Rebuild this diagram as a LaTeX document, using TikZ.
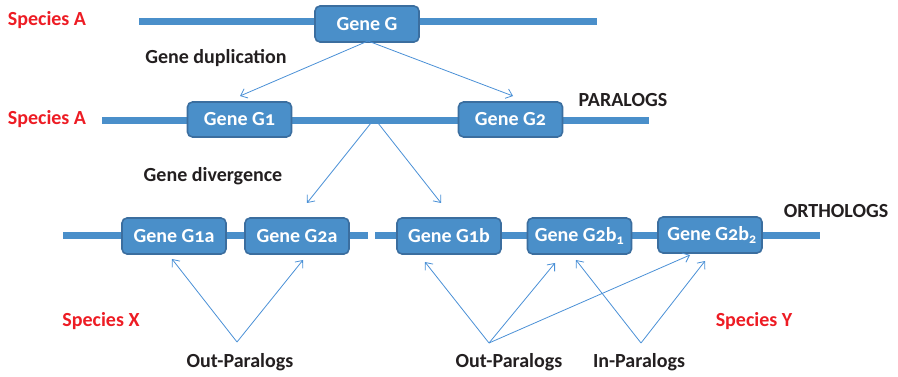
\documentclass[tikz,border=0pt]{standalone}
\usepackage{fontspec}
\setmainfont{Carlito}[Numbers=OldStyle]
\usetikzlibrary{arrows.meta}
\definecolor{genefill}{HTML}{4A8FC9}
\definecolor{genedraw}{HTML}{3B6E9F}
\definecolor{barblue}{HTML}{4A8FCA}
\definecolor{arrowblue}{HTML}{4A90D6}
\definecolor{specred}{HTML}{ED1C24}
\definecolor{labelblack}{HTML}{231F20}
\newcommand{\sub}[1]{\textsubscript{#1}}
\tikzset{
  gene/.style={draw=genedraw, line width=1.6pt, fill=genefill, rounded corners=5pt,
    minimum width=104pt, minimum height=36pt, inner sep=0pt, text=white,
    font=\fontsize{20}{24}\selectfont\bfseries},
  bar/.style={draw=barblue, line width=7pt},
  species/.style={text=specred, font=\fontsize{20}{24}\selectfont\bfseries},
  label/.style={text=labelblack, font=\fontsize{20}{24}\selectfont\bfseries},
  link/.style={draw=arrowblue, line width=0.8pt, -{Straight Barb[length=6pt,width=10pt]}}
}
\begin{document}
\begin{tikzpicture}[x=1pt, y=-1pt]
      \useasboundingbox (0,0) rectangle (898,377);
      % backbones
      \coordinate (a1) at (139,22);
      \coordinate (a2) at (597,22);
      \coordinate (b1) at (102,121);
      \coordinate (b2) at (649,121);
      \coordinate (x1) at (63,236);
      \coordinate (x2) at (368,236);
      \coordinate (y1) at (375,236);
      \coordinate (y2) at (820,236);
      \draw[bar] (a1) -- (a2);
      \draw[bar] (b1) -- (b2);
      \draw[bar] (x1) -- (x2);
      \draw[bar] (y1) -- (y2);
      % genes
      \draw
        (367,24) node[gene] (G){Gene G}
        (239.5,119.5) node[gene, minimum height=35pt] (G1){Gene G1}
        (510.5,119.5) node[gene, minimum height=35pt] (G2){Gene G2}
        (174,236) node[gene] (G1a){Gene G1a}
        (297,236) node[gene] (G2a){Gene G2a}
        (449,236) node[gene] (G1b){Gene G1b}
        (579.5,236) node[gene] (G2b1){Gene G2b\sub{1}}
        (710,235) node[gene] (G2b2){\hspace{4pt}Gene G2b\sub{2}};
      % labels
      \draw
        (47,20) node[species] (spA1){Species A}
        (47,119) node[species] (spA2){Species A}
        (101,321) node[species] (spX){Species X}
        (754,321) node[species] (spY){Species Y}
        (216,58) node[label] (dup){Gene duplication}
        (623,100) node[label] (par){PARALOGS}
        (213,176) node[label] (div){Gene divergence}
        (836,211) node[label] (ort){ORTHOLOGS}
        (240,362) node[label] (outX){Out-Paralogs}
        (509,362) node[label] (outY){Out-Paralogs}
        (639,362) node[label] (inY){In-Paralogs};
      % arrow ends
      \coordinate (d0) at (368,41);
      \coordinate (d1) at (240,96);
      \coordinate (d2) at (513,96);
      \coordinate (v1) at (371,123);
      \coordinate (v2) at (378,123);
      \coordinate (t1) at (307,203);
      \coordinate (t2) at (441,203);
      \coordinate (ox) at (237,342);
      \coordinate (oy) at (489,343);
      \coordinate (iy) at (641,343);
      \coordinate (h1a) at (172,259);
      \coordinate (h2a) at (303,260);
      \coordinate (h1b) at (425,262);
      \coordinate (h2b1) at (555,263);
      \coordinate (h2b2) at (690,255);
      \coordinate (i2b1) at (576,260);
      \coordinate (i2b2) at (705,261);
      \begin{scope}[link]
        \draw (d0) to (d1);
        \draw (d0) to (d2);
        \draw (v1) to (t1);
        \draw (v2) to (t2);
        \draw (ox) to (h1a);
        \draw (ox) to (h2a);
        \draw (oy) to (h1b);
        \draw (oy) to (h2b1);
        \draw (oy) to (h2b2);
        \draw (iy) to (i2b1);
        \draw (iy) to (i2b2);
      \end{scope}
    \end{tikzpicture}
\end{document}
